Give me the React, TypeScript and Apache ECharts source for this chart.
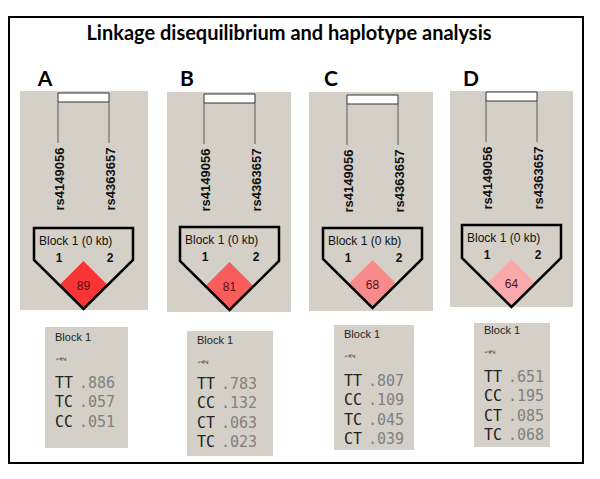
import React, { useEffect, useRef } from "react";
import * as echarts from "echarts";

// ---- data ----
const TITLE = "Linkage disequilibrium and haplotype analysis";
const panelLabels = ["A", "B", "C", "D"];
const markerNames = ["rs4149056", "rs4363657"];
const markerIndex = ["1", "2"];
const blockName = "Block 1";
const blockSize = "(0 kb)";
const dPrime = [89, 81, 68, 64];
const haplotypes = [
  ["TT", "TC", "CC"],
  ["TT", "CC", "CT", "TC"],
  ["TT", "CC", "TC", "CT"],
  ["TT", "CC", "CT", "TC"],
];
const frequencies = [
  [0.886, 0.057, 0.051],
  [0.783, 0.132, 0.063, 0.023],
  [0.807, 0.109, 0.045, 0.039],
  [0.651, 0.195, 0.085, 0.068],
];

// ---- layout / style (not data) ----
const cellColors = ["#f93434", "#f85c5c", "#f78b8b", "#f9a9a9"];
const letterX = [45, 187, 331, 471];
const markerX = [
  [58, 109],
  [204, 255],
  [347, 398],
  [486, 537],
];
const topBox = [
  [20, 91, 128, 219],
  [167, 92, 124, 220],
  [309, 92, 124, 219],
  [450, 91, 123, 216],
];
const barTop = [93, 94, 95, 92];
const pentTop = [228, 227, 228, 225];
const pentShoulder = [260, 261, 259, 258];
const lowerBox = [
  [45, 327, 83, 121],
  [187, 331, 86, 125],
  [334, 325, 80, 125],
  [474, 323, 76, 124],
];
const blockTextY = [337, 340, 334, 330];
const firstRowY = [383, 384, 381, 377];
const rowStep = 19.3;

function buildGraphic() {
  const els: any[] = [];
  els.push({
    type: "rect",
    shape: { x: 9, y: 17, width: 574, height: 446 },
    style: { fill: "none", stroke: "#000", lineWidth: 2 },
  });
  els.push({
    type: "text",
    x: 289,
    y: 32,
    style: {
      text: TITLE,
      fill: "#000",
      font: "bold 20px Lato",
      textAlign: "center",
      textVerticalAlign: "middle",
      align: "center",
      verticalAlign: "middle",
    },
  });
  panelLabels.forEach((lab, i) => {
    els.push({
      type: "text",
      x: letterX[i],
      y: 77,
      style: {
        text: lab,
        fill: "#000",
        font: "bold 21px Lato",
        textAlign: "center",
        textVerticalAlign: "middle",
        align: "center",
        verticalAlign: "middle",
      },
    });
    const [bx, by, bw, bh] = topBox[i];
    els.push({
      type: "rect",
      shape: { x: bx, y: by, width: bw, height: bh },
      style: { fill: "#d4d0c8" },
    });
    const [m1, m2] = markerX[i];
    const cx = (m1 + m2) / 2;
    [m1, m2].forEach((mx, k) => {
      els.push({
        type: "line",
        shape: { x1: mx, y1: barTop[i] + 9, x2: mx, y2: barTop[i] + 50 },
        style: { stroke: "#5a5a5a", lineWidth: 1 },
      });
      els.push({
        type: "text",
        x: mx + 1,
        y: barTop[i] + 86,
        rotation: Math.PI / 2,
        style: {
          text: markerNames[k],
          fill: "#111",
          font: "bold 13px 'Liberation Sans'",
          textAlign: "center",
          textVerticalAlign: "middle",
          align: "center",
          verticalAlign: "middle",
        },
      });
      els.push({
        type: "text",
        x: mx + 1,
        y: pentTop[i] + 30,
        style: {
          text: markerIndex[k],
          fill: "#111",
          font: "bold 12px 'Liberation Sans'",
          textAlign: "center",
          textVerticalAlign: "middle",
          align: "center",
          verticalAlign: "middle",
        },
      });
    });
    els.push({
      type: "rect",
      shape: { x: m1, y: barTop[i], width: m2 - m1, height: 9 },
      style: { fill: "#fff", stroke: "#333", lineWidth: 1 },
    });
    const left = cx - 49.5;
    const right = cx + 49.5;
    const sh = pentShoulder[i];
    const bot = sh + 49;
    els.push({
      type: "polygon",
      shape: {
        points: [
          [cx, bot - 48],
          [cx + 24, bot - 24],
          [cx, bot],
          [cx - 24, bot - 24],
        ],
      },
      style: { fill: cellColors[i] },
    });
    els.push({
      type: "text",
      x: cx,
      y: bot - 23,
      style: {
        text: String(dPrime[i]),
        fill: "#5a1010",
        font: "12px 'Liberation Sans'",
        textAlign: "center",
        textVerticalAlign: "middle",
        align: "center",
        verticalAlign: "middle",
      },
    });
    els.push({
      type: "polygon",
      shape: {
        points: [
          [left, pentTop[i]],
          [right, pentTop[i]],
          [right, sh],
          [cx, bot],
          [left, sh],
        ],
      },
      style: { fill: "none", stroke: "#000", lineWidth: 2.5, lineJoin: "miter" },
    });
    els.push({
      type: "text",
      x: left + 5,
      y: pentTop[i] + 13,
      style: {
        text: blockName + " " + blockSize,
        fill: "#111",
        font: "12px 'Liberation Sans'",
        textAlign: "left",
        textVerticalAlign: "middle",
        align: "left",
        verticalAlign: "middle",
      },
    });
    const [lx, ly, lw, lh] = lowerBox[i];
    els.push({
      type: "rect",
      shape: { x: lx, y: ly, width: lw, height: lh },
      style: { fill: "#d4d0c8" },
    });
    const tx = lx + 10;
    els.push({
      type: "text",
      x: tx,
      y: blockTextY[i],
      style: {
        text: blockName,
        fill: "#222",
        font: "11px 'Liberation Sans'",
        textAlign: "left",
        textVerticalAlign: "middle",
        align: "left",
        verticalAlign: "middle",
      },
    });
    markerIndex.forEach((mi, k) => {
      els.push({
        type: "text",
        x: tx + 3 + k * 5,
        y: blockTextY[i] + 22,
        rotation: Math.PI / 2,
        style: {
          text: mi,
          fill: "#333",
          font: "7px 'Liberation Sans'",
          textAlign: "center",
          textVerticalAlign: "middle",
          align: "center",
          verticalAlign: "middle",
        },
      });
    });
    haplotypes[i].forEach((h, r) => {
      const y = firstRowY[i] + r * rowStep;
      els.push({
        type: "text",
        x: tx,
        y,
        style: {
          text: h,
          fill: "#222",
          font: "15px 'DejaVu Sans Mono'",
          textAlign: "left",
          textVerticalAlign: "middle",
          align: "left",
          verticalAlign: "middle",
        },
      });
      els.push({
        type: "text",
        x: tx + 24,
        y,
        style: {
          text: frequencies[i][r].toFixed(3).replace(/^0/, ""),
          fill: "#808080",
          font: "15px 'DejaVu Sans Mono'",
          textAlign: "left",
          textVerticalAlign: "middle",
          align: "left",
          verticalAlign: "middle",
        },
      });
    });
  });
  return els;
}

export default function App() {
  const ref = useRef<HTMLDivElement>(null);
  useEffect(() => {
    if (!ref.current) return;
    const chart = echarts.init(ref.current, null, { renderer: "svg" });
    chart.setOption({
      animation: false,
      backgroundColor: "#fff",
      graphic: { elements: buildGraphic() },
    });
    return () => chart.dispose();
  }, []);
  return (
    <div
      ref={ref}
      style={{ position: "fixed", left: 0, top: 0, width: 600, height: 479 }}
    />
  );
}
